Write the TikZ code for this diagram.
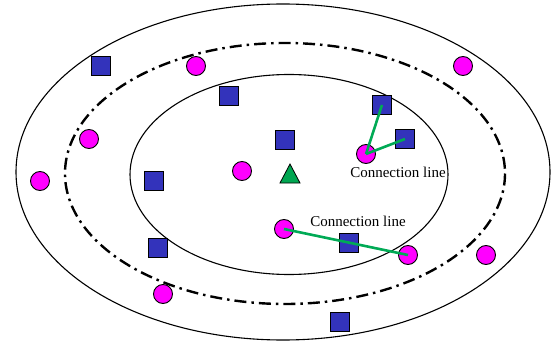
\documentclass[tikz,border=0pt]{standalone}
\usepackage{fontspec}
\setmainfont{Liberation Serif}
\definecolor{sqblue}{RGB}{51,51,187}
\definecolor{dotmag}{RGB}{255,0,255}
\definecolor{linkgreen}{RGB}{0,170,85}
\definecolor{trigreen}{RGB}{0,166,81}
\begin{document}
\begin{tikzpicture}[x=1pt,y=-1pt,
  sq/.style={draw=black,line width=0.9pt,fill=sqblue,minimum size=19pt,inner sep=0pt,rectangle},
  dot/.style={draw=black,line width=0.9pt,fill=dotmag,circle,minimum size=19pt,inner sep=0pt},
  link/.style={draw=linkgreen,line width=2.6pt},
  lbl/.style={font=\fontsize{15}{18}\selectfont,inner sep=0pt},
  ring/.style={draw=black,line width=1.1pt}]
\useasboundingbox (0,0) rectangle (552,345);
% three regions
\draw[ring] (283,172) ellipse [x radius=267, y radius=168];
\draw[black,line width=2.4pt,dash pattern=on 12pt off 5pt on 2.5pt off 5pt] (285,173.5) ellipse [x radius=220, y radius=130.5];
\draw[ring] (289,174.5) ellipse [x radius=159, y radius=100];
% squares
\node[sq] (s1) at (101,66) {};
\node[sq] (s2) at (229,96) {};
\node[sq] (s3) at (285,140) {};
\node[sq] (s4) at (382,105) {};
\node[sq] (s5) at (405,139) {};
\node[sq] (s6) at (154,181) {};
\node[sq] (s7) at (158,248) {};
\node[sq] (s8) at (349,243) {};
\node[sq] (s9) at (340,322) {};
% circles
\node[dot] (c1) at (196,66) {};
\node[dot] (c2) at (463,66) {};
\node[dot] (c3) at (89,139) {};
\node[dot] (c4) at (40,181) {};
\node[dot] (c5) at (242,171) {};
\node[dot] (c6) at (366,154) {};
\node[dot] (c7) at (284,229) {};
\node[dot] (c8) at (408,255) {};
\node[dot] (c9) at (486,255) {};
\node[dot] (c10) at (163,294) {};
% query point
\fill[trigreen,draw=black,line width=0.8pt] (290,164) -- (300,183) -- (280,183) -- cycle;
% connection lines
\draw[link] (c6.center) -- (s4.center);
\draw[link] (c6.center) -- (s5.center);
\draw[link] (c7.center) -- (c8.center);
% labels
\node[lbl] (l1) at (398,172) {Connection line};
\node[lbl] (l2) at (358,221) {Connection line};
\end{tikzpicture}
\end{document}
